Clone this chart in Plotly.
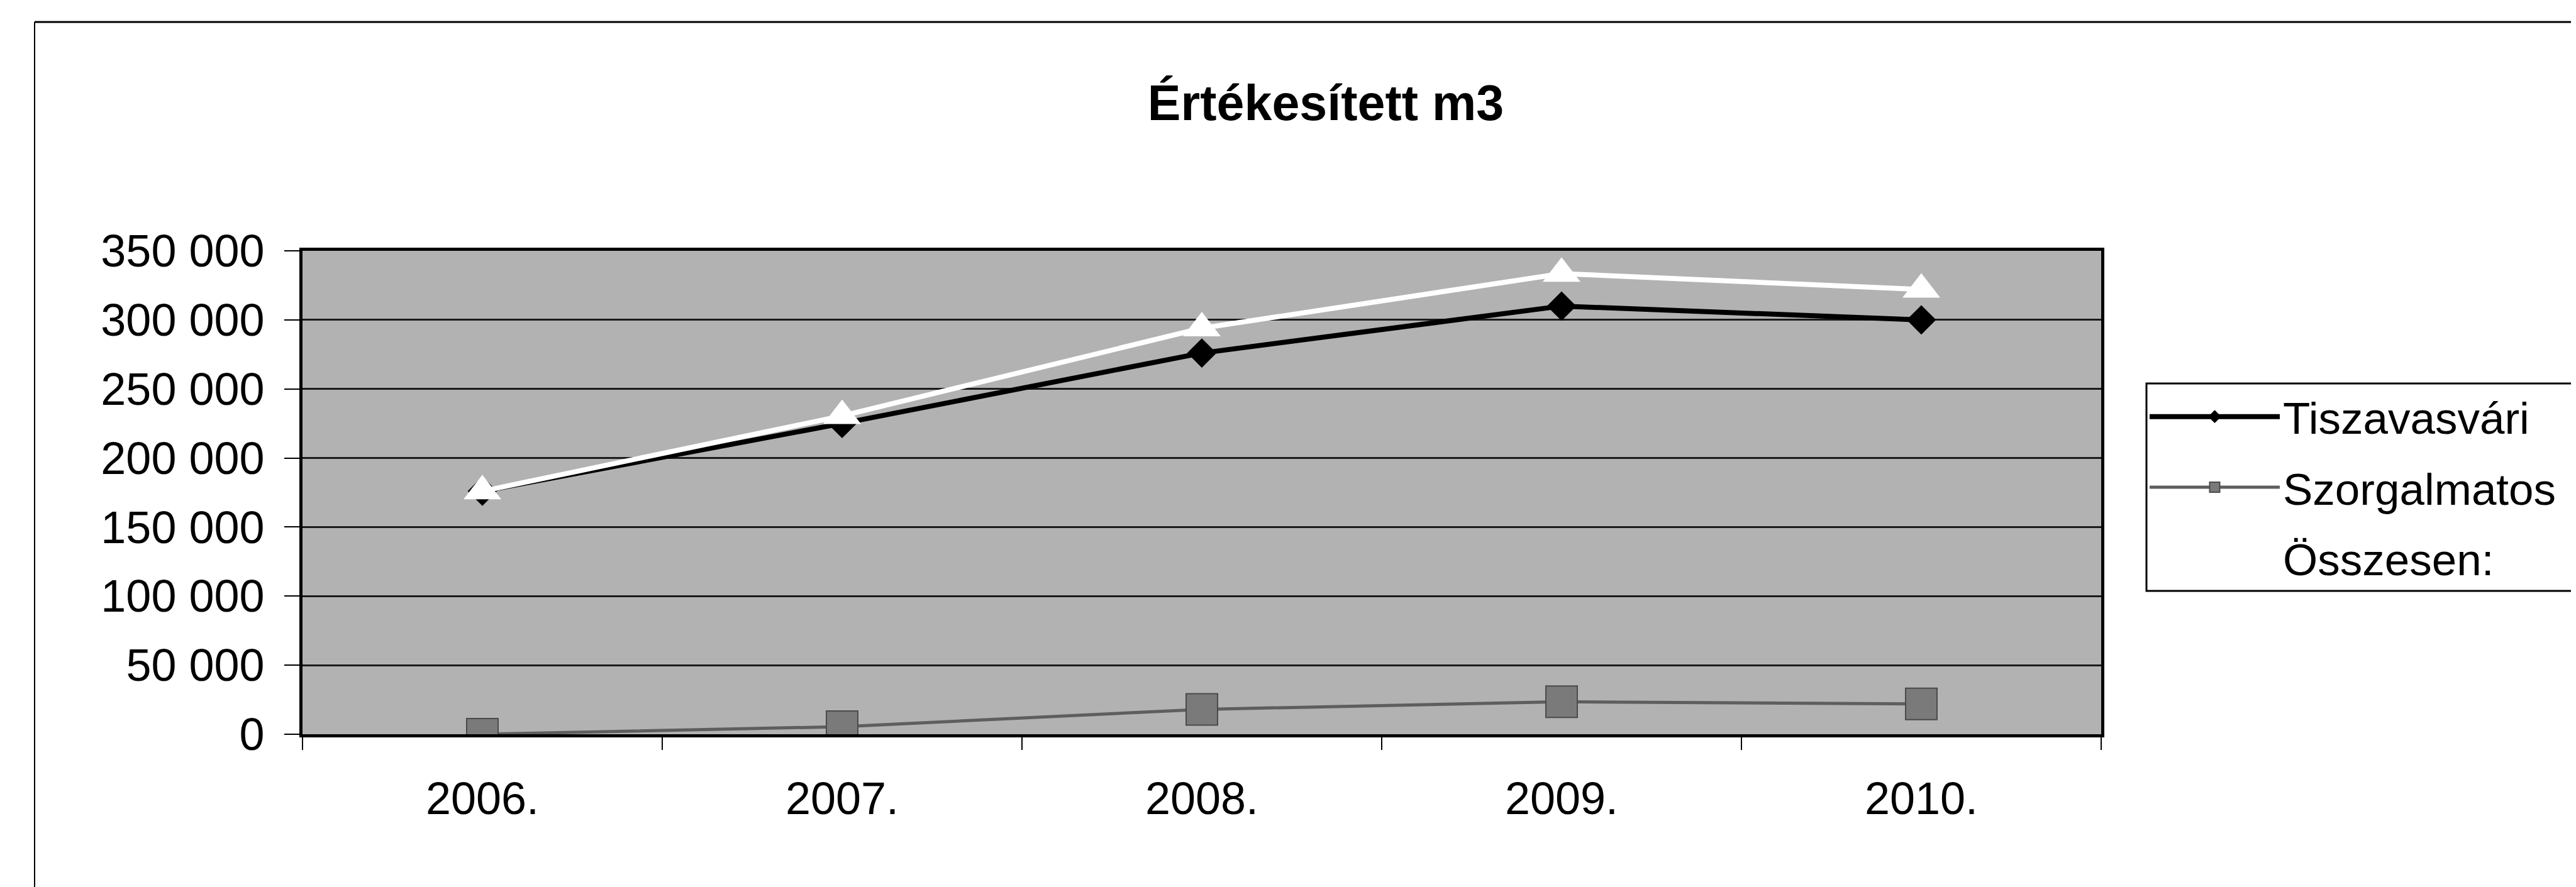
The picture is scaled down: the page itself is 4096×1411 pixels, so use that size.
import plotly.graph_objects as go

# ---- data ----
years = ["2006.", "2007.", "2008.", "2009.", "2010."]
tiszavasvari = [176000, 225000, 276000, 310000, 300000]
szorgalmatos = [0, 5500, 18000, 23500, 22000]
osszesen = [176000, 230500, 294000, 333500, 322000]
series_names = ["Tiszavasvári", "Szorgalmatos", "Összesen:"]
title_text = "Értékesített m3"
y_ticks = [0, 50000, 100000, 150000, 200000, 250000, 300000, 350000]

W, H = 4096, 1411
L, R, T, B = 473, 3333, 391, 1160   # plot area in px


def px_x(p):
    return (p - L) / (R - L)


def px_y(p):
    return (B - p) / (B - T)


FONT = "Liberation Sans, Arial, sans-serif"

fig = go.Figure()
fig.add_trace(go.Scatter(
    x=years, y=tiszavasvari, name=series_names[0], mode="lines+markers",
    line=dict(color="black", width=8),
    marker=dict(symbol="diamond", size=36, color="black"),
    legendgroup="a"))
fig.add_trace(go.Scatter(
    x=years, y=szorgalmatos, name=series_names[1], mode="lines+markers",
    line=dict(color="#5e5e5e", width=5),
    marker=dict(symbol="square", size=50, color="#7a7a7a",
                line=dict(color="#4a4a4a", width=2)),
    legendgroup="b"))
fig.add_trace(go.Scatter(
    x=years, y=osszesen, name=series_names[2], mode="lines+markers",
    line=dict(color="white", width=8),
    marker=dict(symbol="triangle-up", size=52, color="white"),
    legendgroup="c"))

shapes = [
    # outer chart frame (left and top edges visible)
    dict(type="line", xref="paper", yref="paper",
         x0=px_x(47), x1=px_x(47), y0=px_y(27), y1=px_y(H + 10),
         line=dict(color="black", width=2)),
    dict(type="line", xref="paper", yref="paper",
         x0=px_x(47), x1=px_x(W + 10), y0=px_y(27), y1=px_y(27),
         line=dict(color="black", width=3)),
    # legend box
    dict(type="rect", xref="paper", yref="paper",
         x0=px_x(3405), x1=px_x(W + 50), y0=px_y(932), y1=px_y(602),
         line=dict(color="black", width=3), fillcolor="rgba(0,0,0,0)"),
]

fig.update_layout(
    width=W, height=H,
    paper_bgcolor="white", plot_bgcolor="#b2b2b2",
    separators=", ",
    margin=dict(l=L, r=W - R, t=T, b=H - B, autoexpand=False),
    font=dict(family=FONT, size=72, color="black"),
    title=dict(text="<b>" + title_text + "</b>", font=dict(family=FONT, size=79, color="black"),
               x=2100 / W, xref="container", xanchor="center",
               y=1 - 155 / H, yref="container", yanchor="middle"),
    showlegend=True,
    legend=dict(x=px_x(3405), xanchor="left", y=px_y(602), yanchor="top",
                bgcolor="rgba(0,0,0,0)", borderwidth=0,
                font=dict(family=FONT, size=71, color="black"),
                itemwidth=207, tracegroupgap=17, traceorder="grouped",
                itemsizing="trace"),
    shapes=shapes,
)

fig.update_xaxes(
    type="category", range=[-0.5, len(years) - 0.5],
    showgrid=False, zeroline=False,
    showline=True, linecolor="black", linewidth=5, mirror=True,
    ticks="outside", tickson="boundaries", ticklen=20, tickwidth=2, tickcolor="black",
    tickfont=dict(family=FONT, size=72, color="black"),
    ticklabelstandoff=36,
)
fig.update_yaxes(
    range=[0, 350000], tickvals=y_ticks, tickformat=",.0f",
    showgrid=True, gridcolor="#1a1a1a", gridwidth=3, zeroline=False,
    showline=True, linecolor="black", linewidth=5, mirror=True,
    ticks="outside", ticklen=24, tickwidth=2, tickcolor="black",
    tickfont=dict(family=FONT, size=72, color="black"),
    ticklabelstandoff=17,
)

fig.write_html("out.html")
